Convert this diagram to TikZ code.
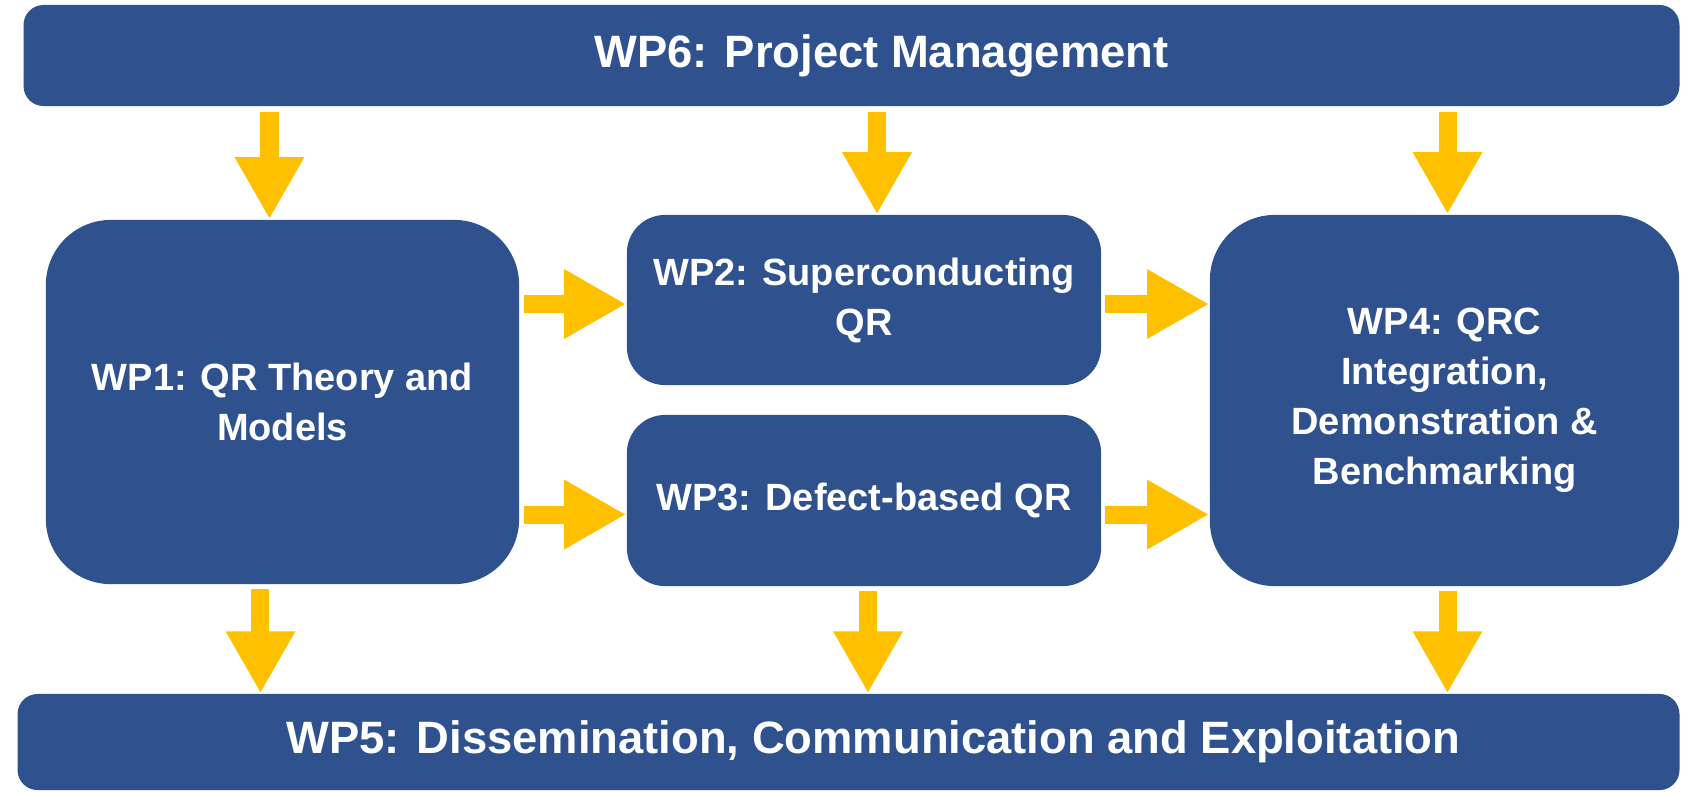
\documentclass[tikz,border=0pt]{standalone}
\usepackage{fontspec}
\setmainfont{Liberation Sans}
\usetikzlibrary{arrows.meta}

\definecolor{wpblue}{HTML}{2F528F}
\definecolor{wpgold}{HTML}{FFC000}

\tikzset{
    wp/.style={fill=wpblue, text=white, font=\bfseries\fontsize{10.8}{14.2}\selectfont,
        align=center, inner sep=0pt},
    wpbar/.style={wp, rounded corners=0.2cm, font=\bfseries\fontsize{12.9}{15}\selectfont},
    flow/.style={draw=wpgold, line width=0.18cm, -{Triangle[width=0.65cm, length=0.62cm]}},
}

\begin{document}
\begin{tikzpicture}[x=0.01cm, y=-0.01cm]
    \useasboundingbox (0,0) rectangle (1701,793);
    \node[wpbar, minimum width=16.55cm, minimum height=1.01cm] (wp6) at (851.5,55.5) {\hspace*{0.6cm}WP6: Project Management};
    \node[wp, rounded corners=0.65cm, minimum width=4.73cm, minimum height=3.64cm] (wp1) at (282.5,402) {WP1: QR Theory and\\Models};
    \node[wp, rounded corners=0.38cm, minimum width=4.74cm, minimum height=1.70cm] (wp2) at (864,300) {WP2: Superconducting\\QR};
    \node[wp, rounded corners=0.38cm, minimum width=4.74cm, minimum height=1.71cm] (wp3) at (864,500.5) {WP3: Defect-based QR};
    \node[wp, rounded corners=0.65cm, minimum width=4.69cm, minimum height=3.71cm] (wp4) at (1444.5,400.5) {WP4: QRC\\Integration,\\Demonstration \&\\Benchmarking};
    \node[wpbar, minimum width=16.61cm, minimum height=0.96cm] (wp5) at (848.5,742) {\hspace*{0.5cm}WP5: Dissemination, Communication and Exploitation};

    % management feeds every package
    \draw[flow, shorten <=0.05cm] ([xshift=-0.13cm]wp6.south -| wp1.north) -- ([xshift=-0.13cm]wp1.north);
    \draw[flow, shorten <=0.05cm] ([xshift=0.13cm]wp6.south -| wp2.north) -- ([xshift=0.13cm]wp2.north);
    \draw[flow, shorten <=0.05cm] ([xshift=0.03cm]wp6.south -| wp4.north) -- ([xshift=0.03cm]wp4.north);

    \draw[flow, shorten <=0.04cm] ([yshift=-0.04cm]wp1.east |- wp2.west) -- ([yshift=-0.04cm]wp2.west);
    \draw[flow, shorten <=0.04cm] ([yshift=-0.14cm]wp1.east |- wp3.west) -- ([yshift=-0.14cm]wp3.west);
    \draw[flow, shorten <=0.03cm] ([yshift=-0.04cm]wp2.east) -- ([yshift=-0.04cm]wp4.west |- wp2.east);
    \draw[flow, shorten <=0.03cm] ([yshift=-0.14cm]wp3.east) -- ([yshift=-0.14cm]wp4.west |- wp3.east);

    \draw[flow, shorten <=0.04cm] ([xshift=-0.22cm]wp1.south) -- ([xshift=-0.22cm]wp5.north -| wp1.south);
    \draw[flow, shorten <=0.04cm] ([xshift=0.04cm]wp3.south) -- ([xshift=0.04cm]wp5.north -| wp3.south);
    \draw[flow, shorten <=0.04cm] ([xshift=0.03cm]wp4.south) -- ([xshift=0.03cm]wp5.north -| wp4.south);
\end{tikzpicture}
\end{document}
